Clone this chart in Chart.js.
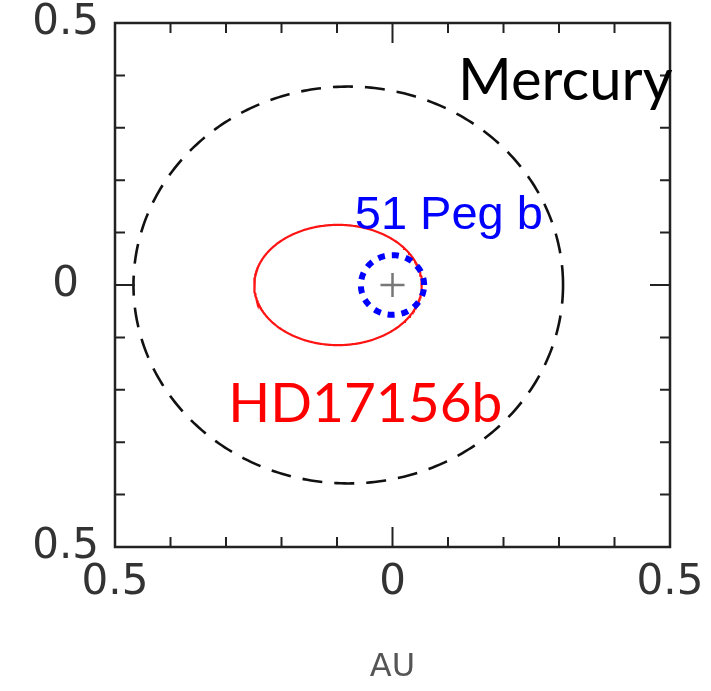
<!DOCTYPE html>
<html>
<head>
<meta charset="utf-8">
<script src="https://cdn.jsdelivr.net/npm/chart.js@4"></script>
<style>
  body { margin: 0; background: #fff; }
  #wrap { width: 711px; height: 691px; }
</style>
</head>
<body>
<div id="wrap"><canvas id="orbitChart"></canvas></div>
<script>
// orbital elements, AU
const planets = ["Mercury", "HD17156b", "51 Peg b"];
const semiMajor = [0.387, 0.151, 0.057];
const eccentricity = [0.206, 0.65, 0];
const planetColors = ["#111111", "#ff1414", "#0000ff"];
const star = [{ x: 0, y: 0 }];
const tickValues = [-0.5, 0, 0.5];
const tickLabels = ["0.5", "0", "0.5"];

// star sits at the right focus, periastron towards +x
function orbitPoints(a, e) {
  const b = a * Math.sqrt(1 - e * e);
  const pts = [];
  for (let i = 0; i <= 360; i++) {
    const E = (i * Math.PI) / 180;
    pts.push({ x: a * (Math.cos(E) - e), y: b * Math.sin(E) });
  }
  return pts;
}

function tickLabel(value) {
  const v = Math.round(value * 10) / 10;
  const i = tickValues.indexOf(v === 0 ? 0 : v);
  return i >= 0 ? tickLabels[i] : "";
}

const lineStyles = [
  { borderWidth: 2.6, borderDash: [20, 12], order: 3 },
  { borderWidth: 2.2, borderDash: [], order: 2 },
  { borderWidth: 6, borderDash: [7, 7], order: 1 },
];

const datasets = planets.map((name, i) => ({
  label: name,
  data: orbitPoints(semiMajor[i], eccentricity[i]),
  showLine: true,
  pointRadius: 0,
  borderColor: planetColors[i],
  borderWidth: lineStyles[i].borderWidth,
  borderDash: lineStyles[i].borderDash,
  order: lineStyles[i].order,
}));
datasets.push({
  label: "star",
  data: star,
  pointStyle: "cross",
  pointRadius: 12,
  borderColor: "#777",
  borderWidth: 2.5,
  order: 0,
});

// box with inward ticks on all four sides
const framePlugin = {
  id: "frame",
  afterDatasetsDraw(chart) {
    const { ctx, chartArea: { left, right, top, bottom }, scales: { x, y } } = chart;
    ctx.save();
    ctx.strokeStyle = "#222";
    ctx.lineWidth = 2;
    ctx.beginPath();
    x.ticks.forEach((t) => {
      const px = x.getPixelForValue(t.value);
      const len = Math.abs(t.value) < 1e-6 ? 20 : 10;
      ctx.moveTo(px, bottom); ctx.lineTo(px, bottom - len);
      ctx.moveTo(px, top); ctx.lineTo(px, top + len);
    });
    y.ticks.forEach((t) => {
      const py = y.getPixelForValue(t.value);
      const len = Math.abs(t.value) < 1e-6 ? 20 : 10;
      ctx.moveTo(left, py); ctx.lineTo(left + len, py);
      ctx.moveTo(right, py); ctx.lineTo(right - len, py);
    });
    ctx.stroke();
    ctx.lineWidth = 2.5;
    ctx.strokeRect(left, top, right - left, bottom - top);
    ctx.restore();
  },
};

// planet names
const namePlugin = {
  id: "names",
  afterDraw(chart) {
    const { ctx, scales: { x, y } } = chart;
    const items = [
      { text: planets[0], x: 0.118, y: 0.353, font: '58px Lato', color: "#000" },
      { text: planets[1], x: -0.296, y: -0.261, font: '55px Lato', color: "#ff0000" },
      { text: planets[2], x: -0.068, y: 0.107, font: '47px "Liberation Sans"', color: "#0000ff" },
    ];
    ctx.save();
    ctx.textAlign = "left";
    ctx.textBaseline = "alphabetic";
    items.forEach((it) => {
      ctx.font = it.font;
      ctx.fillStyle = it.color;
      ctx.fillText(it.text, x.getPixelForValue(it.x), y.getPixelForValue(it.y));
    });
    ctx.restore();
  },
};

const tickFont = { family: "DejaVu Sans", size: 42 };

new Chart(document.getElementById("orbitChart"), {
  type: "scatter",
  data: { datasets },
  options: {
    responsive: true,
    maintainAspectRatio: false,
    animation: false,
    layout: { padding: { top: 23, right: 41, left: 0, bottom: 0 } },
    plugins: { legend: { display: false }, tooltip: { enabled: false } },
    scales: {
      x: {
        min: -0.5,
        max: 0.5,
        grid: { display: false, drawTicks: false },
        border: { display: false },
        ticks: {
          stepSize: 0.1,
          autoSkip: false,
          maxRotation: 0,
          padding: 11,
          color: "#333",
          font: tickFont,
          callback: tickLabel,
        },
        title: {
          display: true,
          text: "AU",
          color: "#555",
          font: { family: "DejaVu Sans", size: 32 },
          padding: { top: 4, bottom: 4 },
        },
        afterFit(scale) {
          scale.height = 144;
          scale.paddingLeft = 0;
          scale.paddingRight = 0;
        },
      },
      y: {
        min: -0.5,
        max: 0.5,
        grid: { display: false, drawTicks: false },
        border: { display: false },
        ticks: {
          stepSize: 0.1,
          autoSkip: false,
          padding: 16,
          crossAlign: "center",
          color: "#333",
          font: tickFont,
          callback: tickLabel,
        },
        afterFit(scale) {
          scale.width = 115;
          scale.paddingTop = 0;
          scale.paddingBottom = 0;
        },
      },
    },
  },
  plugins: [framePlugin, namePlugin],
});
</script>
</body>
</html>
